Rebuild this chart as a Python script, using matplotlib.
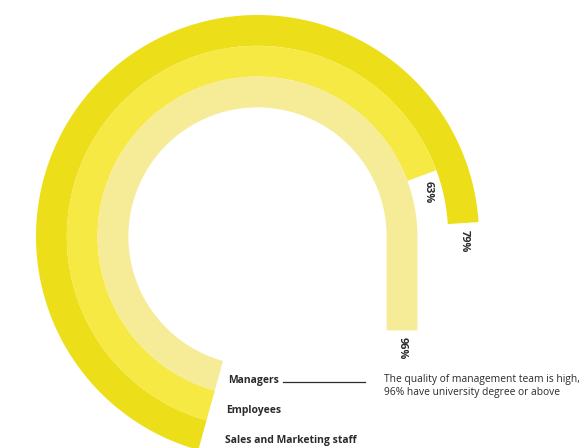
import numpy as np
import matplotlib
matplotlib.use("Agg")
import matplotlib.pyplot as plt
from matplotlib.patches import Polygon

# Staff with university degree or above, by group (outer ring first)
groups = ["Sales and Marketing staff", "Employees", "Managers"]
values = [79, 63, 96]
colors = ["#ECDF19", "#F6E943", "#F6EC97"]
note = "The quality of management team is high,\n96% have university degree or above"

# Ring geometry in pixel units
CX, CY = 257.5, 236.5
R_OUTER = 221.5
BAND = 30.8
START_DEG = 254.5          # every ring starts just left of the bottom
SWEEP_BASE = 168.8         # sweep (deg) = SWEEP_BASE + SWEEP_PER_PCT * value
SWEEP_PER_PCT = 1.0375
TAIL_PX_PER_DEG = 6.76     # sweep past the 3 o'clock point runs straight down


def ring_path(r_in, r_out, value):
    sweep = SWEEP_BASE + SWEEP_PER_PCT * value
    tail = max(0.0, sweep - START_DEG) * TAIL_PX_PER_DEG
    end_deg = max(START_DEG - sweep, 0.0)
    th = np.radians(np.linspace(START_DEG, end_deg, 300))
    outer = np.column_stack([CX + r_out * np.cos(th), CY - r_out * np.sin(th)])
    inner = np.column_stack([CX + r_in * np.cos(th), CY - r_in * np.sin(th)])[::-1]
    pts = [outer]
    if tail > 0:
        pts.append([[CX + r_out, CY + tail], [CX + r_in, CY + tail]])
    pts.append(inner)
    pts = np.vstack(pts)

    # end of the band along its centre line, and travel direction there
    r_mid = (r_in + r_out) / 2
    t = np.radians(end_deg)
    if tail > 0:
        end = (CX + r_mid, CY + tail)
        direction = (0.0, 1.0)
    else:
        end = (CX + r_mid * np.cos(t), CY - r_mid * np.sin(t))
        direction = (np.sin(t), np.cos(t))
    return pts, end, direction


fig = plt.figure(figsize=(5.82, 4.48), dpi=100)
ax = fig.add_axes([0, 0, 1, 1])
ax.set_xlim(0, 582)
ax.set_ylim(448, 0)
ax.axis("off")

font = "Open Sans"
text_color = "#2b2b2b"

for i, (name, val, col) in enumerate(zip(groups, values, colors)):
    r_out = R_OUTER - i * BAND
    r_in = r_out - BAND
    pts, end, d = ring_path(r_in, r_out, val)
    ax.add_patch(Polygon(pts, closed=True, facecolor=col, edgecolor="none"))
    ax.text(end[0] + 18 * d[0], end[1] + 18 * d[1], f"{val}%",
            rotation=270, ha="center", va="center", fontsize=7.8,
            fontweight="bold", color=text_color, family=font)

# group labels beside the ring starts, innermost on top
label_y = [441, 411, 380]
label_x = [225, 226, 228]
for name, x, y in zip(groups, label_x, label_y):
    ax.text(x, y, name, ha="left", va="center", fontsize=7.5,
            fontweight="bold", color=text_color, family=font)

ax.plot([283, 365], [382, 382], color=text_color, lw=0.9)
ax.text(384, 386, note, ha="left", va="center", fontsize=7.4,
        color=text_color, family=font, linespacing=1.25)

fig.savefig("out.png", dpi=100)
